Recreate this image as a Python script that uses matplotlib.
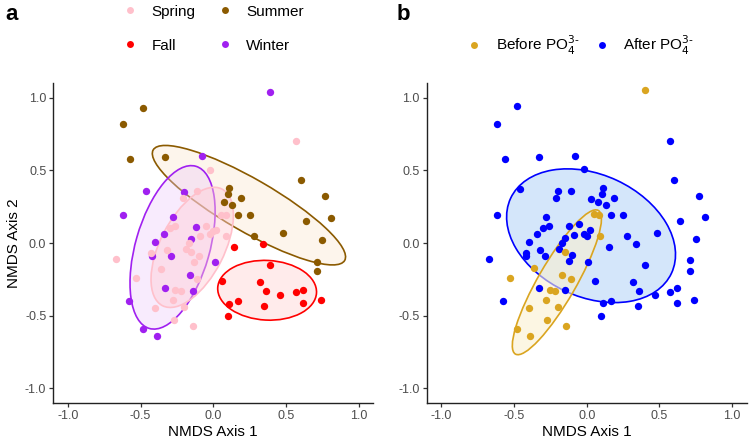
import numpy as np
import matplotlib.pyplot as plt
from matplotlib.patches import Ellipse
from matplotlib.lines import Line2D

plt.rcParams['font.family'] = ['Liberation Sans', 'DejaVu Sans']

# panel a: seasons
spring_x = [0.57, -0.02, -0.11, -0.21, 0.05, 0.09, -0.26, -0.30, -0.05, 0.02, 0.00, -0.02, -0.09, 0.09,
            -0.17, -0.19, -0.32, -0.15, -0.10, -0.13, -0.43, -0.67, -0.36, -0.53, -0.11, -0.26, -0.22,
            -0.28, -0.20, -0.40, -0.27, -0.14]
spring_y = [0.70, 0.50, 0.36, 0.31, 0.19, 0.19, 0.12, 0.10, 0.12, 0.09, 0.08, 0.06, 0.05, 0.05,
            0.00, -0.04, -0.05, -0.06, -0.09, -0.13, -0.07, -0.11, -0.18, -0.24, -0.25, -0.32, -0.33,
            -0.39, -0.44, -0.45, -0.53, -0.57]
summer_x = [-0.48, -0.62, -0.57, -0.33, 0.11, 0.10, 0.19, 0.075, 0.13, 0.17, 0.25, 0.28, 0.48, 0.60,
            0.77, 0.81, 0.64, 0.75, 0.71, 0.71]
summer_y = [0.93, 0.82, 0.58, 0.59, 0.38, 0.34, 0.31, 0.28, 0.26, 0.19, 0.19, 0.05, 0.07, 0.43,
            0.32, 0.17, 0.15, 0.02, -0.13, -0.19]
fall_x = [0.14, 0.34, 0.39, 0.06, 0.32, 0.36, 0.46, 0.57, 0.62, 0.62, 0.74, 0.17, 0.11, 0.35, 0.10]
fall_y = [-0.03, -0.01, -0.15, -0.26, -0.27, -0.33, -0.36, -0.34, -0.32, -0.41, -0.39, -0.40, -0.42,
          -0.43, -0.50]
winter_x = [0.39, -0.08, -0.46, -0.20, -0.62, -0.28, -0.12, -0.34, -0.15, -0.40, -0.42, -0.29, 0.01,
            -0.16, -0.33, -0.14, -0.58, -0.48, -0.39]
winter_y = [1.04, 0.60, 0.36, 0.35, 0.19, 0.18, 0.11, 0.06, 0.03, 0.01, -0.09, -0.09, -0.13,
            -0.22, -0.31, -0.33, -0.40, -0.59, -0.64]

# panel b: before / after PO4
before_x = [0.40, 0.048, 0.082, 0.089, -0.15, -0.36, -0.53, -0.17, -0.105, -0.25, -0.22, -0.28,
            -0.20, -0.40, -0.27, -0.14, -0.48, -0.39]
before_y = [1.05, 0.20, 0.19, 0.05, -0.06, -0.175, -0.24, -0.22, -0.25, -0.32, -0.33, -0.39,
            -0.44, -0.45, -0.53, -0.57, -0.59, -0.64]
after_x = [-0.48, -0.62, 0.57, -0.565, -0.33, -0.08, -0.02, 0.60, -0.46, -0.20, -0.105, 0.11, 0.105,
           -0.21, 0.03, 0.19, 0.075, 0.13, 0.77, -0.62, -0.28, 0.17, 0.25, 0.81, 0.64, -0.12, -0.26,
           -0.30, -0.05, -0.34, -0.09, -0.02, 0.005, 0.02, -0.15, 0.28, 0.48, 0.75, -0.40, -0.17, 0.34,
           0.15, -0.19, -0.32, -0.42, -0.42, -0.29, -0.10, -0.67, -0.12, 0.01, 0.40, 0.71, 0.71, 0.06,
           0.32, -0.33, -0.15, 0.36, 0.47, 0.57, 0.62, -0.575, 0.11, 0.17, 0.35, 0.62, 0.74, 0.10]
after_y = [0.94, 0.82, 0.70, 0.58, 0.59, 0.60, 0.51, 0.43, 0.37, 0.36, 0.36, 0.38, 0.34,
           0.31, 0.30, 0.31, 0.28, 0.26, 0.32, 0.19, 0.18, 0.19, 0.19, 0.18, 0.15, 0.12, 0.12,
           0.10, 0.13, 0.065, 0.055, 0.06, 0.05, 0.09, 0.036, 0.05, 0.07, 0.025, 0.01, 0.00, -0.01,
           -0.03, -0.04, -0.045, -0.07, -0.09, -0.09, -0.085, -0.11, -0.125, -0.13, -0.15, -0.12, -0.19, -0.26,
           -0.27, -0.31, -0.325, -0.33, -0.36, -0.34, -0.31, -0.40, -0.41, -0.40, -0.43, -0.41, -0.39, -0.50]

# 95% ellipses: centre x, centre y, semi-major, semi-minor, angle (deg)
ell_spring = (-0.145, -0.03, 0.45, 0.22, 63)
ell_summer = (0.245, 0.26, 0.76, 0.18, -30)
ell_fall = (0.37, -0.325, 0.34, 0.205, -3)
ell_winter = (-0.28, -0.03, 0.58, 0.255, 74)
ell_before = (-0.205, -0.27, 0.57, 0.13, 60)
ell_after = (0.03, 0.05, 0.61, 0.42, -25)

ticks = [-1.0, -0.5, 0.0, 0.5, 1.0]
tick_labels = ['-1.0', '-0.5', '0.0', '0.5', '1.0']


def add_ellipse(ax, e, edge, fill):
    cx, cy, a, b, ang = e
    ax.add_patch(Ellipse((cx, cy), 2 * a, 2 * b, angle=ang, facecolor=fill, edgecolor=edge,
                         linewidth=1.2, zorder=1))


def style_axes(ax):
    ax.set_xlim(-1.1, 1.1)
    ax.set_ylim(-1.1, 1.1)
    ax.set_xticks(ticks)
    ax.set_yticks(ticks)
    ax.set_xticklabels(tick_labels)
    ax.set_yticklabels(tick_labels)
    for s in ['top', 'right']:
        ax.spines[s].set_visible(False)
    for s in ['left', 'bottom']:
        ax.spines[s].set_linewidth(1.0)
        ax.spines[s].set_color('#222222')
    ax.tick_params(direction='out', length=3, width=0.9, color='#333333', labelsize=9,
                   labelcolor='#4D4D4D', pad=2)
    ax.set_xlabel('NMDS Axis 1', fontsize=11, labelpad=2)


fig = plt.figure(figsize=(7.5, 4.43), dpi=100)
ax1 = fig.add_axes([53.3 / 750, 40 / 443, 320 / 750, 320 / 443])
ax2 = fig.add_axes([426.7 / 750, 40 / 443, 320 / 750, 320 / 443])

c_spring, c_summer, c_fall, c_winter = '#FFC0CB', '#8B5A00', '#FF0000', '#A020F0'
c_before, c_after = '#DAA520', '#0000FF'

# panel a
add_ellipse(ax1, ell_summer, c_summer, (0.99, 0.93, 0.86, 0.5))
add_ellipse(ax1, ell_fall, c_fall, (1.0, 0.85, 0.85, 0.5))
add_ellipse(ax1, ell_winter, c_winter, (0.92, 0.78, 0.98, 0.35))
add_ellipse(ax1, ell_spring, c_spring, (1.0, 0.80, 0.84, 0.45))
ms = 28
ax1.scatter(summer_x, summer_y, s=ms, color=c_summer, lw=0, zorder=3)
ax1.scatter(fall_x, fall_y, s=ms, color=c_fall, lw=0, zorder=3)
ax1.scatter(winter_x, winter_y, s=ms, color=c_winter, lw=0, zorder=3)
ax1.scatter(spring_x, spring_y, s=ms, color=c_spring, lw=0, zorder=3)
style_axes(ax1)
ax1.set_ylabel('NMDS Axis 2', fontsize=11, labelpad=3)

# panel b
add_ellipse(ax2, ell_after, c_after, '#D4E6FA')
add_ellipse(ax2, ell_before, c_before, (0.98, 0.94, 0.82, 0.6))
ax2.scatter(after_x, after_y, s=ms, color=c_after, lw=0, zorder=3)
ax2.scatter(before_x, before_y, s=ms, color=c_before, lw=0, zorder=3)
style_axes(ax2)

# legends
def h(c):
    return Line2D([], [], marker='o', ls='', color=c, markersize=5, markeredgewidth=0)


fig.legend([h(c_spring), h(c_fall), h(c_summer), h(c_winter)], ['Spring', 'Fall', 'Summer', 'Winter'],
           ncol=2, loc='upper left', bbox_to_anchor=(115 / 750, 1 + 3 / 443), frameon=False, fontsize=11,
           handlelength=1.0, handletextpad=0.9, columnspacing=1.4, labelspacing=1.3, borderpad=0)
fig.legend([h(c_before), h(c_after)], ['Before PO$_4^{3\\text{-}}$', 'After PO$_4^{3\\text{-}}$'],
           ncol=2, loc='upper left', bbox_to_anchor=(459 / 750, 1 - 26 / 443), frameon=False, fontsize=11,
           handlelength=1.0, handletextpad=0.9, columnspacing=1.0, borderpad=0)

fig.text(5 / 750, 1 - 4 / 443, 'a', fontsize=16, fontweight='bold', va='top', ha='left')
fig.text(397 / 750, 1 - 4 / 443, 'b', fontsize=16, fontweight='bold', va='top', ha='left')

fig.savefig('out.png', dpi=100)
